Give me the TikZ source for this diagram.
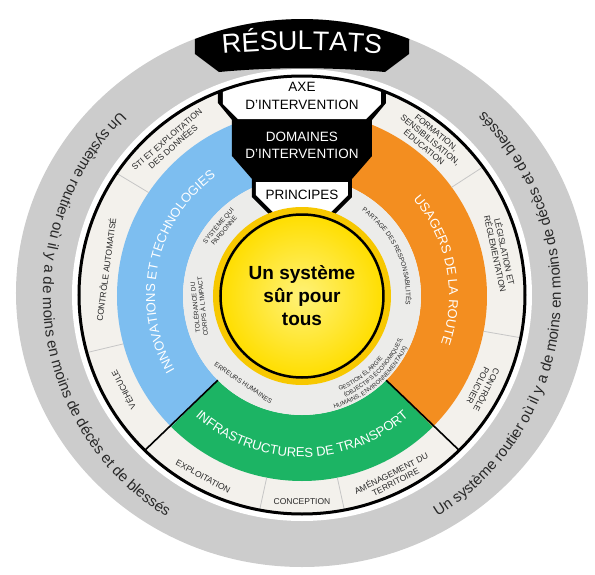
\documentclass[tikz,border=0pt]{standalone}
\usepackage{fontspec}
\setmainfont{Liberation Sans}
\usepackage{tikz}
\usetikzlibrary{decorations.text}
\definecolor{gris}{RGB}{204,204,204}
\definecolor{creme}{RGB}{243,241,236}
\definecolor{pale}{RGB}{236,236,234}
\definecolor{bleu}{RGB}{125,190,240}
\definecolor{orangeroute}{RGB}{243,142,32}
\definecolor{vert}{RGB}{28,180,100}
\definecolor{jaune}{RGB}{255,222,0}
\definecolor{jaunecl}{RGB}{255,242,120}
\definecolor{jauneor}{RGB}{247,200,0}
\definecolor{texte}{RGB}{40,40,40}
\newcommand{\grisfont}{\fontsize{15}{16}\selectfont}
\newcommand{\zonefont}{\fontsize{13}{14}\selectfont}
\newcommand{\resfont}{\fontsize{27}{28}\selectfont}
\newcommand{\petitfont}{\fontsize{6.5}{7.5}\selectfont}
\newcommand{\gestfont}{\fontsize{6}{7}\selectfont}
\tikzstyle{secteur} = [font=\fontsize{8.5}{9.5}\selectfont, text=texte, align=center, inner sep=0pt]
\tikzstyle{principe} = [font=\petitfont, text=texte, align=center, inner sep=0pt]
\tikzstyle{onglet} = [font=\fontsize{13.5}{14}\selectfont, inner sep=0pt]
\tikzstyle{sep} = [draw=gray!45, line width=0.8pt]
\tikzstyle{limite} = [draw=black, line width=1.6pt]
\tikzstyle{courbe} = [decorate, decoration={text along path, text align=center}]

\begin{document}
\begin{tikzpicture}[x=1pt,y=1pt]
\useasboundingbox (-302,-278) rectangle (293,296);
% anneaux
\fill[gris] (0,3) ellipse [x radius=286, y radius=274];
\fill[white] (0,1) ellipse [x radius=230, y radius=226];
\fill[creme] (0,1) ellipse [x radius=222, y radius=218];
% domaines
\fill[bleu] (90:185) arc[start angle=90, end angle=225, radius=185] -- (225:119) arc[start angle=225, end angle=90, radius=119] -- cycle;
\fill[orangeroute] (-45:185) arc[start angle=-45, end angle=90, radius=185] -- (90:119) arc[start angle=90, end angle=-45, radius=119] -- cycle;
\fill[vert] (225:185) arc[start angle=225, end angle=315, radius=185] -- (315:119) arc[start angle=315, end angle=225, radius=119] -- cycle;
\fill[pale] (0,0) circle (119);
% separations
\foreach \a in {36,146,195,259,281,349}
  \draw[sep] (\a:185) -- (\a:222 and 218);
\draw[limite] (225:119) -- (225:223 and 219);
\draw[limite] (315:119) -- (315:223 and 219);
% onglets
\begin{scope}
\clip (0,1) ellipse [x radius=223, y radius=219];
\fill[black] (-84,240) -- (-84,193) -- (-70,176) -- (-70,140) -- (-50,117) -- (-50,99) -- (-28,77) -- (28,77) -- (50,99) -- (50,117) -- (70,140) -- (70,176) -- (84,193) -- (84,240) -- cycle;
\fill[white] (-79,240) -- (-79,192) -- (-64,177) -- (64,177) -- (79,192) -- (79,240) -- cycle;
\end{scope}
\fill[white] (-46,114) -- (-46,101) -- (-28,83) -- (28,83) -- (46,101) -- (46,114) -- cycle;
\draw[line width=3pt] (0,1) ellipse [x radius=223, y radius=219];
\fill[black] (-107,257) arc[start angle=112, end angle=68, x radius=286, y radius=274] -- (107,242) -- (83,224) .. controls (30,229) and (-30,229) .. (-83,224) -- (-107,242) -- cycle;
% centre
\fill[jauneor] (0,0) circle (89);
\shade[inner color=jaunecl, outer color=jaune] (0,0) circle (81);
\draw[line width=2.5pt] (0,0) circle (81.5);
\node[font=\fontsize{19}{23}\selectfont\bfseries, align=center, inner sep=0pt] (centre) at (0,0) {Un système\\sûr pour\\tous};

% textes des onglets
\path[courbe, decoration={text={|\resfont|RÉSULTATS}, text color=white}] (-100,240) .. controls (-35,248) and (35,248) .. (100,240);
\node[onglet] (axe) at (0,209) {AXE};
\node[onglet] (axe2) at (0,191) {D'INTERVENTION};
\node[onglet, text=white] (domaines) at (0,159) {DOMAINES};
\node[onglet, text=white] (domaines2) at (0,142.5) {D'INTERVENTION};
\node[onglet] (principes) at (0,101) {PRINCIPES};

% anneau gris
\path[courbe, decoration={text={|\grisfont|Un système routier où il y a de moins en moins de décès et de blessés}, text color=texte}] (130:259) arc[start angle=130, end angle=243, radius=259];
\path[courbe, decoration={text={|\grisfont|Un système routier où il y a de moins en moins de décès et de blessés}, text color=texte}] (-60:259) arc[start angle=-60, end angle=47, radius=259];

% domaines d'intervention
\path[courbe, decoration={text={|\zonefont|INNOVATIONS ET TECHNOLOGIES}, text color=white}] (212:147) arc[start angle=212, end angle=124, radius=147];
\path[courbe, decoration={text={|\zonefont|USAGERS DE LA ROUTE}, text color=white}] (50:147) arc[start angle=50, end angle=-28, radius=147];
\path[courbe, decoration={text={|\zonefont|INFRASTRUCTURES DE TRANSPORT}, text color=white}] (222:161) arc[start angle=222, end angle=318, radius=161];

% axes d'intervention
\node[secteur, rotate=40.8] (sti) at (130.8:202) {STI ET EXPLOITATION\\DES DONNÉES};
\node[secteur, rotate=82.4] (automatise) at (172.4:198) {CONTRÔLE AUTOMATISÉ};
\node[secteur, rotate=117.7] (vehicule) at (207.7:202) {VÉHICULE};
\node[secteur, rotate=-28.7] (exploitation) at (241.3:206) {EXPLOITATION};
\node[secteur] (conception) at (270:206) {CONCEPTION};
\node[secteur, rotate=26.7] (amenagement) at (296.7:203) {AMÉNAGEMENT DU\\TERRITOIRE};
\node[secteur, rotate=243] (policier) at (333:203) {CONTRÔLE\\POLICIER};
\node[secteur, rotate=-77.7] (legislation) at (12.3:203) {LÉGISLATION ET\\RÉGLEMENTATION};
\node[secteur, rotate=-39.4] (formation) at (50.6:202) {FORMATION,\\SENSIBILISATION,\\ÉDUCATION};

% principes
\node[principe, rotate=50] (pardonne) at (140:106) {SYSTÈME QUI\\PARDONNE};
\node[principe, rotate=96] (tolerance) at (186:104) {TOLÉRANCE DU\\CORPS À L'IMPACT};
\node[principe, rotate=-34] (erreurs) at (236:105) {ERREURS HUMAINES};
\path[courbe, decoration={text={|\petitfont|PARTAGE DES RESPONSABILITÉS}, text color=texte}] (65:104) arc[start angle=65, end angle=-15, radius=104];
\path[courbe, decoration={text={|\gestfont|GESTION ÉLARGIE}, text color=texte}] (277:102) arc[start angle=277, end angle=337, radius=102];
\path[courbe, decoration={text={|\gestfont|(OBJECTIFS ÉCONOMIQUES,}, text color=texte}] (275:109.5) arc[start angle=275, end angle=355, radius=109.5];
\path[courbe, decoration={text={|\gestfont|HUMAINS, ENVIRONNEMENTAUX)}, text color=texte}] (268:117) arc[start angle=268, end angle=352, radius=117];
\end{tikzpicture}
\end{document}
